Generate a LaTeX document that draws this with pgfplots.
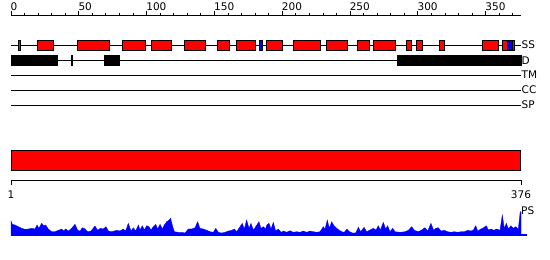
\documentclass[border=0pt]{standalone}
\usepackage{pgfplots}
\pgfplotsset{compat=1.18}
\usepackage{fontspec}
\setmainfont{DejaVu Sans}
\definecolor{fred}{RGB}{255,0,0}
\definecolor{fblue}{RGB}{0,0,255}
\newcommand\ssbox[3]{\addplot[fill=#3,draw=black,line width=0.9pt] coordinates {(#1,40)(#2,40)(#2,50)(#1,50)} --cycle;}
\newcommand\dbox[2]{\addplot[fill=black,draw=black,line width=0.9pt] coordinates {(#1,55.5)(#2,55.5)(#2,65.5)(#1,65.5)} --cycle;}
\begin{document}
\begin{tikzpicture}[font=\fontsize{10.5}{12}\selectfont]
\useasboundingbox (0,0) rectangle (550pt,260pt);
\begin{axis}[at={(0,0)}, anchor=south west, scale only axis, width=550pt, height=260pt,
  xmin=-8.11, xmax=397.37, ymin=0, ymax=260, y dir=reverse, hide axis, clip=false]
% top ruler
\addplot[black, line width=1pt] coordinates {(0,15)(376,15)};
\pgfplotsinvokeforeach{10,20,...,370}{\addplot[black,line width=0.9pt] coordinates {(#1,15)(#1,12.5)};}
\pgfplotsinvokeforeach{0,50,...,350}{\addplot[black,line width=0.9pt] coordinates {(#1,15)(#1,11)};
  \node[anchor=south west, inner sep=0pt, xshift=-0.5pt] at (axis cs:#1,11) {#1};}
% track lines
\addplot[black, line width=1pt] coordinates {(0,45)(376,45)};
\addplot[black, line width=1pt] coordinates {(0,60.5)(376,60.5)};
\addplot[black, line width=1pt] coordinates {(0,75)(376,75)};
\addplot[black, line width=1pt] coordinates {(0,90)(376,90)};
\addplot[black, line width=1pt] coordinates {(0,105)(376,105)};
% SS
\ssbox{5.2}{7.2}{fred}
\ssbox{19.4}{31.2}{fred}
\ssbox{48.9}{72.5}{fred}
\ssbox{82}{99}{fred}
\ssbox{103.5}{118.2}{fred}
\ssbox{127.8}{143.3}{fred}
\ssbox{152.1}{161}{fred}
\ssbox{166.2}{180.2}{fred}
\ssbox{183.1}{185.6}{fblue}
\ssbox{188.5}{200}{fred}
\ssbox{208.2}{228.4}{fred}
\ssbox{232.5}{248.3}{fred}
\ssbox{255.4}{264.2}{fred}
\ssbox{267.2}{283.4}{fred}
\ssbox{291.5}{295.2}{fred}
\ssbox{298.9}{303.6}{fred}
\ssbox{315.9}{319.8}{fred}
\ssbox{347.6}{359.4}{fred}
\ssbox{362.3}{365.8}{fred}
\ssbox{365.8}{367.8}{fblue}
\ssbox{367.8}{369.7}{fblue}
\ssbox{369.7}{371.4}{fred}
% D
\dbox{0}{34.4}
\dbox{44.3}{45.3}
\dbox{68.8}{80.2}
\dbox{284.9}{376}
% labels
\node[anchor=west, inner sep=0pt, xshift=0.5pt] at (axis cs:376,45) {SS};
\node[anchor=west, inner sep=0pt, xshift=0.5pt] at (axis cs:376,60.5) {D};
\node[anchor=west, inner sep=0pt, xshift=0.5pt] at (axis cs:376,75) {TM};
\node[anchor=west, inner sep=0pt, xshift=0.5pt] at (axis cs:376,90) {CC};
\node[anchor=west, inner sep=0pt, xshift=0.5pt] at (axis cs:376,105) {SP};
% big bar
\addplot[fill=fred, draw=black, line width=1pt] coordinates {(0,150)(375.5,150)(375.5,170)(0,170)} --cycle;
% bottom ruler
\addplot[black, line width=1pt] coordinates {(0,180)(376,180)};
\addplot[black, line width=0.9pt] coordinates {(0,180)(0,185)};
\addplot[black, line width=0.9pt] coordinates {(376,180)(376,185)};
\node[anchor=north, inner sep=0pt] at (axis cs:0,190.5) {1};
\node[anchor=north, inner sep=0pt] at (axis cs:376,190.5) {376};
\node[anchor=west, inner sep=0pt] at (axis cs:376,211) {PS};
\end{axis}
\begin{axis}[at={(0,0)}, anchor=south west, scale only axis, width=550pt, height=260pt,
  xmin=-8.11, xmax=397.37, ymin=-25, ymax=235, hide axis, clip=false]
\addplot[blue, line width=1.2pt] coordinates {(0,0)(380.4,0)};
\addplot[fill=fblue, draw=fblue, line width=0.3pt] coordinates {(0,0)(0,14)(1.0,10.7)(2.9,10)(5.4,8.3)(7.9,6.7)(10.3,5.7)(12.8,6)(15.2,6.7)(17.7,6)(19.2,10)(20.6,6.7)(22.6,11.7)(24.1,9.3)(25.6,10)(27.5,6)(30.0,3.3)(32.4,3.3)(34.9,4.7)(37.4,6)(38.8,4)(40.3,6)(42.3,4)(44.2,6)(47.2,10.7)(49.2,4.7)(50.9,4)(52.6,7.3)(54.6,6)(56.5,3.3)(59.0,4)(61.9,9)(63.9,4.7)(65.9,6.7)(68.1,6)(70.0,8.3)(71.8,4)(74.2,3.3)(77.9,4.7)(80.4,4)(82.8,6)(84.5,4)(86.5,11.7)(88.5,4)(90.2,7.3)(91.9,4)(93.9,10)(95.1,5)(96.8,9.3)(98.3,5)(100.0,9.3)(101.7,8.3)(103.2,5)(104.9,8.3)(106.7,10.7)(108.1,6)(109.9,10.7)(111.6,6)(113.0,10)(114.8,13.3)(116.5,15)(117.7,16.7)(118.9,10)(120.4,3.3)(123.4,2.7)(125.8,2.7)(128.3,2)(130.7,6)(133.2,6)(135.7,7.3)(137.6,13.3)(139.3,6.7)(141.8,6)(144.3,4.7)(146.7,3.3)(149.2,2.7)(150.9,6.7)(152.9,2.7)(155.3,2)(157.8,2.7)(160.2,4)(162.7,4.7)(164.7,6)(166.4,3.3)(168.8,8.3)(170.5,11.7)(172.0,6)(173.7,15)(175.5,6.7)(176.9,11.7)(178.7,5)(180.4,8.3)(182.8,13.3)(184.3,6.7)(186.0,8.3)(187.8,6)(188.5,10)(190.2,11.7)(191.7,6)(193.4,12.7)(195.1,4)(197.1,6)(199.1,2.7)(201.0,4)(203.2,2.7)(205.7,4.3)(208.1,2.7)(210.6,3.3)(213.1,2.7)(215.5,4)(218.0,2.7)(220.4,4)(222.9,3.3)(225.4,2.7)(227.8,3.3)(230.3,8.3)(231.5,6)(233.2,15)(234.7,6.7)(236.4,13.3)(238.1,9.3)(240.1,6.7)(241.8,5)(243.8,3.3)(245.7,2.7)(247.7,6)(249.7,3.3)(251.6,2)(254.1,2)(256.1,7.7)(257.8,3.3)(260.3,7.7)(262.2,3.3)(264.7,5)(267.1,6.7)(269.1,5)(270.8,9.3)(272.3,5)(274.5,12.7)(276.2,6)(277.7,9.3)(279.4,3.3)(281.4,6.7)(283.1,3.3)(286.8,2.7)(290.5,3.3)(292.9,4.7)(295.4,8.3)(297.4,4.7)(300.3,3.3)(302.8,5)(305.2,7.3)(307.2,4)(309.6,11.7)(311.6,4.7)(313.1,6.7)(315.0,7.3)(317.0,4)(319.5,4.7)(321.9,3.3)(324.4,2.7)(326.8,3.3)(329.3,2.7)(331.8,3.3)(334.2,3.3)(336.7,4.7)(339.1,4)(340.9,5)(342.6,9.3)(344.1,4)(346.5,6)(348.5,7.3)(350.4,9.3)(351.9,5)(353.9,6)(355.8,4.7)(358.1,6)(360.5,4.7)(362.2,20)(363.7,6.7)(365.2,11.7)(366.7,6)(368.6,9.3)(370.3,6.7)(372.1,8.3)(374.0,6)(375.4,23.3)(376,23.3)(376,0)} --cycle;
\end{axis}
\end{tikzpicture}
\end{document}
